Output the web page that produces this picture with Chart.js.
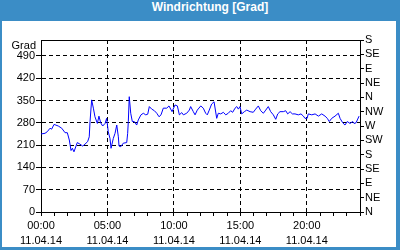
<!DOCTYPE html>
<html>
<head>
<meta charset="utf-8">
<script src="https://cdn.jsdelivr.net/npm/chart.js@4.4.0/dist/chart.umd.min.js"></script>
<style>
    body { margin: 0; background: #fff; }
    #frame { position: relative; width: 400px; height: 250px; background: #3b8dc6; }
    #title {
        position: absolute; left: 0; top: 0; width: 400px; height: 21px;
        line-height: 21px; text-align: center; color: #fff;
        font: bold 12px "Liberation Sans", Arial, sans-serif;
        padding-left: 20px; box-sizing: border-box;
    }
    #panel { position: absolute; left: 2px; top: 21px; width: 394px; height: 226px; background: #fff; }
</style>
</head>
<body>
<div id="frame">
    <div id="title">Windrichtung [Grad]</div>
    <div id="panel"><canvas id="windChart" width="394" height="226"></canvas></div>
</div>
<script>
// Zeit in Stunden (11.04.14) und Windrichtung in Grad
const hours = [
    0, 0.30, 0.47, 0.68, 0.80, 0.98, 1.30, 1.56, 1.81, 1.98,
    2.13, 2.26, 2.36, 2.48, 2.73, 2.93, 3.14, 3.31, 3.51, 3.63,
    3.69, 3.81, 3.94, 4.06, 4.24, 4.36, 4.49, 4.64, 4.82, 4.94,
    5.06, 5.19, 5.27, 5.44, 5.57, 5.70, 5.82, 5.87, 6.00, 6.19,
    6.45, 6.52, 6.57, 6.64, 6.75, 6.87, 7.02, 7.20, 7.32, 7.52,
    7.70, 7.88, 8.03, 8.15, 8.33, 8.53, 8.71, 8.88, 9.03, 9.20,
    9.46, 9.63, 9.86, 10.08, 10.26, 10.41, 10.59, 10.71, 10.96, 11.16,
    11.26, 11.46, 11.59, 11.76, 12.02, 12.21, 12.39, 12.51, 12.66, 12.84,
    13.02, 13.22, 13.34, 13.52, 13.72, 13.90, 14.09, 14.27, 14.42, 14.60,
    14.73, 14.85, 14.97, 15.10, 15.30, 15.48, 15.73, 15.97, 16.15, 16.35,
    16.53, 16.73, 16.91, 17.10, 17.28, 17.48, 17.66, 17.81, 17.98, 18.23,
    18.41, 18.56, 18.74, 18.91, 19.11, 19.36, 19.56, 19.74, 19.86, 20.02,
    20.11, 20.37, 20.62, 20.87, 21.12, 21.37, 21.54, 21.69, 21.87, 22.12,
    22.37, 22.50, 22.70, 22.87, 23.04, 23.25, 23.45, 23.55, 23.70, 23.80,
    23.93
];
const degrees = [
    245, 247, 252, 263, 260, 275, 270, 263, 249, 249,
    226, 193, 200, 189, 218, 213, 207, 213, 221, 236,
    284, 352, 326, 299, 278, 301, 280, 270, 278, 294,
    252, 231, 200, 231, 247, 273, 236, 207, 205, 216,
    218, 247, 284, 362, 310, 284, 284, 273, 289, 305,
    310, 305, 307, 331, 323, 318, 310, 299, 305, 326,
    326, 333, 315, 336, 333, 305, 312, 305, 310, 320,
    331, 315, 305, 320, 333, 326, 310, 305, 320, 339,
    346, 294, 310, 308, 313, 305, 310, 318, 313, 326,
    331, 323, 331, 308, 315, 320, 315, 313, 323, 333,
    318, 310, 320, 331, 315, 305, 291, 308, 315, 315,
    318, 308, 315, 308, 308, 305, 308, 301, 294, 294,
    308, 305, 308, 301, 308, 301, 294, 284, 294, 301,
    310, 294, 280, 273, 284, 278, 284, 278, 280, 289,
    301
];
const leftTicks = [0, 70, 140, 210, 280, 350, 420, 490];
const compassTicks = [0, 45, 90, 135, 180, 225, 270, 315, 360, 405, 450, 495, 540];
const compassLabels = ['N', 'NE', 'E', 'SE', 'S', 'SW', 'W', 'NW', 'N', 'NE', 'E', 'SE', 'S'];
const dateLabel = '11.04.14';

const tickFont = { family: '"Liberation Sans", Arial, sans-serif', size: 11 };

function pad2(n) {
    return (n < 10 ? '0' : '') + n;
}

// obere Rahmenlinie und Achsentitel "Grad"
const framePlugin = {
    id: 'frame',
    afterDraw(chart) {
        const ctx = chart.ctx;
        const a = chart.chartArea;
        ctx.save();
        ctx.strokeStyle = '#000';
        ctx.lineWidth = 1;
        ctx.beginPath();
        ctx.moveTo(Math.round(a.left), Math.round(a.top) + 0.5);
        ctx.lineTo(Math.round(a.right), Math.round(a.top) + 0.5);
        ctx.stroke();
        ctx.fillStyle = '#000';
        ctx.font = '11px "Liberation Sans", Arial, sans-serif';
        ctx.textAlign = 'right';
        ctx.textBaseline = 'middle';
        ctx.fillText('Grad', a.left - 5, a.top + 6);
        ctx.restore();
    }
};

const ctx = document.getElementById('windChart').getContext('2d');
const windChart = new Chart(ctx, {
    type: 'line',
    data: {
        datasets: [{
            data: hours.map((h, i) => ({ x: h, y: degrees[i] })),
            borderColor: '#0000ff',
            borderWidth: 1,
            pointRadius: 0,
            tension: 0,
            fill: false
        }]
    },
    options: {
        responsive: false,
        animation: false,
        events: [],
        layout: { padding: { top: 19, left: 0, right: 0, bottom: 0 } },
        plugins: {
            legend: { display: false },
            tooltip: { enabled: false }
        },
        scales: {
            x: {
                type: 'linear',
                min: 0,
                max: 24,
                afterFit: s => { s.height = 35; },
                ticks: {
                    stepSize: 1,
                    autoSkip: false,
                    maxRotation: 0,
                    padding: 2,
                    color: '#000',
                    font: { ...tickFont, lineHeight: 1.4 },
                    callback: v => (v % 5 === 0 && v < 24) ? [pad2(v) + ':00', dateLabel] : ''
                },
                grid: {
                    color: c => (c.tick && c.tick.value % 5 === 0 && c.tick.value > 0 && c.tick.value < 24) ? '#000' : 'rgba(0,0,0,0)',
                    tickColor: '#000',
                    tickLength: 4
                },
                border: { color: '#000', dash: [4, 3] }
            },
            y: {
                position: 'left',
                min: 0,
                max: 540,
                afterFit: s => { s.width = 39; },
                afterBuildTicks: s => { s.ticks = leftTicks.map(v => ({ value: v })); },
                ticks: {
                    autoSkip: false,
                    padding: 1,
                    color: '#000',
                    font: tickFont
                },
                grid: {
                    color: c => (c.tick && c.tick.value > 0) ? '#000' : 'rgba(0,0,0,0)',
                    tickColor: '#000',
                    tickLength: 5
                },
                border: { color: '#000', dash: [4, 3] }
            },
            y2: {
                position: 'right',
                min: 0,
                max: 540,
                afterFit: s => { s.width = 36; },
                afterBuildTicks: s => { s.ticks = compassTicks.map(v => ({ value: v })); },
                ticks: {
                    autoSkip: false,
                    padding: 1,
                    color: '#000',
                    font: tickFont,
                    callback: (v, i) => compassLabels[i]
                },
                grid: {
                    drawOnChartArea: false,
                    tickColor: '#000',
                    tickLength: 4
                },
                border: { color: '#000' }
            }
        }
    },
    plugins: [framePlugin]
});
</script>
</body>
</html>
